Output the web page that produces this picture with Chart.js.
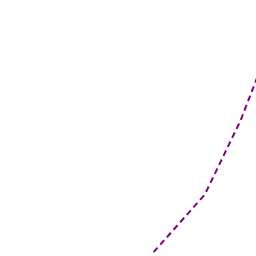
<!DOCTYPE html>
<html>
<head>
<meta charset="utf-8">
<script src="https://cdn.jsdelivr.net/npm/chart.js@4"></script>
<style>
html, body { margin: 0; padding: 0; background: #fff; }
#wrap { width: 256px; height: 256px; }
</style>
</head>
<body>
<div id="wrap"><canvas id="chart"></canvas></div>
<script>
// values
var xValues = [6, 8, 9.4, 10.6];
var yValues = [0.15, 2.4, 5.3, 8.4];

var points = xValues.map(function (x, i) { return { x: x, y: yValues[i] }; });

var ctx = document.getElementById('chart').getContext('2d');
var myChart = new Chart(ctx, {
    type: 'line',
    data: {
        datasets: [{
            data: points,
            borderColor: '#800080',
            borderWidth: 2,
            borderDash: [6, 4],
            pointRadius: 0,
            tension: 0,
            fill: false
        }]
    },
    options: {
        responsive: true,
        maintainAspectRatio: false,
        animation: false,
        layout: { padding: 0 },
        plugins: {
            legend: { display: false },
            tooltip: { enabled: false }
        },
        scales: {
            x: { type: 'linear', min: 0, max: 10, display: false },
            y: { type: 'linear', min: 0, max: 10, display: false }
        }
    }
});
</script>
</body>
</html>
